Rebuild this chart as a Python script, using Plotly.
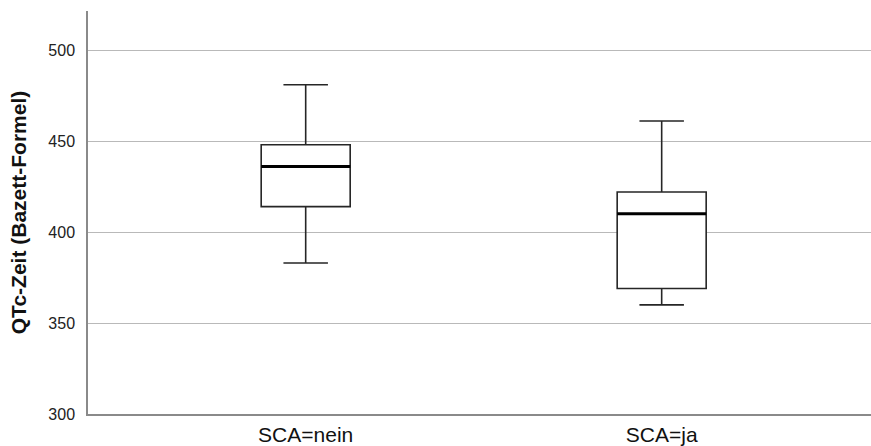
import plotly.graph_objects as go

# Summary statistics of QTc time (Bazett formula) per SCA group
categories = ["SCA=nein", "SCA=ja"]
lower_whisker = [383, 360]
q1 = [414, 369]
median = [436, 410]
q3 = [448, 422]
upper_whisker = [481, 461]

y_ticks = [300, 350, 400, 450, 500]

positions = list(range(len(categories)))
box_width = 0.25
font_family = "Liberation Sans, Arial, Helvetica, sans-serif"

fig = go.Figure()

for i, cat in enumerate(categories):
    fig.add_trace(go.Box(
        x=[positions[i]],
        q1=[q1[i]],
        median=[median[i]],
        q3=[q3[i]],
        lowerfence=[lower_whisker[i]],
        upperfence=[upper_whisker[i]],
        name=cat,
        width=box_width,
        whiskerwidth=0.5,
        boxpoints=False,
        fillcolor="white",
        line=dict(color="#262626", width=1.6),
        hoverinfo="skip",
        showlegend=False,
    ))
    # heavier median bar drawn over the box
    fig.add_trace(go.Scatter(
        x=[positions[i] - box_width / 2, positions[i] + box_width / 2],
        y=[median[i], median[i]],
        mode="lines",
        line=dict(color="black", width=3),
        hoverinfo="skip",
        showlegend=False,
    ))

fig.update_layout(
    width=871,
    height=446,
    margin=dict(l=88, r=0, t=11, b=32),
    paper_bgcolor="white",
    plot_bgcolor="white",
    font=dict(family=font_family, color="#222222"),
    xaxis=dict(
        range=[-0.6115, 1.588],
        tickmode="array",
        tickvals=positions,
        ticktext=categories,
        tickfont=dict(size=21, color="#111111"),
        showgrid=False,
        zeroline=False,
        showline=True,
        linecolor="#8a8a8a",
        linewidth=1.5,
        ticks="",
        ticklabelstandoff=1,
    ),
    yaxis=dict(
        range=[300, 521.5],
        tickmode="array",
        tickvals=y_ticks,
        tickfont=dict(size=16, color="#222222"),
        showgrid=True,
        gridcolor="#b9b9b9",
        gridwidth=1.2,
        zeroline=False,
        showline=True,
        linecolor="#8a8a8a",
        linewidth=1.5,
        ticks="",
        ticklabelstandoff=8,
        title=dict(
            text="<b>QTc-Zeit (Bazett-Formel)</b>",
            font=dict(size=21, color="#111111"),
            standoff=16,
        ),
    ),
)

fig.write_html("out.html")
